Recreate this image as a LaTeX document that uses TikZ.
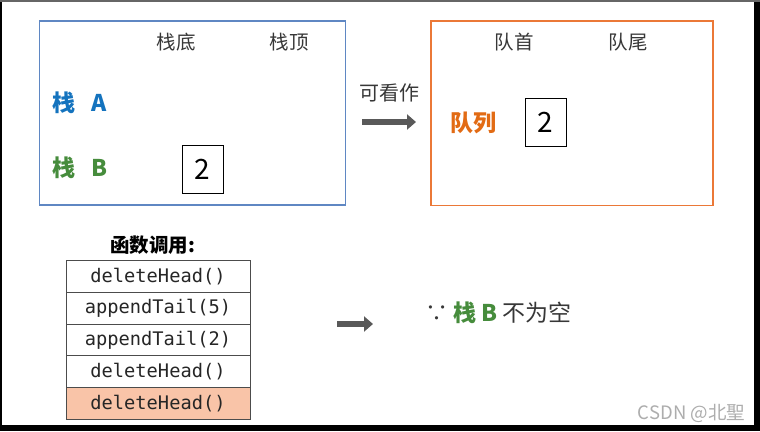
\documentclass[tikz,border=0pt]{standalone}
\usepackage{fontspec}
\setmainfont{Noto Sans CJK SC}
\setmonofont{DejaVu Sans Mono}
\usetikzlibrary{
  arrows.meta,
  positioning
}
\definecolor{stka}{RGB}{20,115,190}
\definecolor{stkb}{RGB}{70,140,60}
\definecolor{que}{RGB}{226,107,20}
\definecolor{txt}{RGB}{55,55,55}
\definecolor{bluebox}{RGB}{95,135,195}
\definecolor{orgbox}{RGB}{235,120,55}
\definecolor{hl}{RGB}{249,196,168}

\begin{document}
\begin{tikzpicture}[
  x=1pt, y=-1pt,
  every node/.style={inner sep=0pt, outer sep=0pt},
  headlbl/.style={font=\fontsize{19.5}{22}\selectfont, text=txt},
  stklbl/.style={font=\fontsize{23}{26}\selectfont\bfseries},
  valbox/.style={draw=black, line width=0.9pt, minimum width=41pt, minimum height=48pt,
               font=\fontsize{28}{30}\selectfont},
  callbox/.style={draw=black!70, line width=0.9pt, minimum width=184pt, minimum height=31.7pt,
               font=\ttfamily\fontsize{18.7}{22}\selectfont, text=black!85},
  bigarrow/.style={line width=6pt, black!65, -{Triangle[width=15pt, length=9pt]}}
]
\useasboundingbox (0,0) rectangle (760,431);

% frame
\fill[black] (0,0) rectangle (760,431);
\fill[white] (1.5,1.5) rectangle (754,425);
\fill[black!60] (0,0) rectangle (760,1.5);

% two stacks
\draw[bluebox, line width=1.3pt] (39.5,21) rectangle (345.5,205);
\node[headlbl] (bottom) at (176,42) {栈底};
\node[headlbl] (top) at (289,42) {栈顶};
\node[stklbl, text=stka] (stackA) at (80,103) {栈\hspace{0.7em}A};
\node[stklbl, text=stkb] (stackB) at (80,168) {栈\hspace{0.7em}B};
\node[valbox] (itemB) at (202.5,169) {2};

% "可看作"
\node[font=\fontsize{20}{22}\selectfont, text=txt] (lookas) at (389,93) {可看作};
\coordinate (la) at (362,122);
\coordinate (lb) at (416,122);
\draw[bigarrow] (la) -- (lb);

% queue
\draw[orgbox, line width=1.3pt] (431,21) rectangle (713,205.5);
\node[headlbl] (front) at (514,42) {队首};
\node[headlbl] (rear) at (628,42) {队尾};
\node[stklbl, text=que] (queue) at (473,123) {队列};
\node[valbox] (itemQ) at (545.5,122) {2};

% function calls
\node[font=\fontsize{19.5}{22}\selectfont\bfseries] (calls) at (152.5,245) {函数调用:};
\node[callbox] (call1) at (158,276.5) {deleteHead()};
\node[callbox] (call2) at (158,308.2) {appendTail(5)};
\node[callbox] (call3) at (158,339.8) {appendTail(2)};
\node[callbox] (call4) at (158,371.5) {deleteHead()};
\node[callbox, fill=hl] (call5) at (158,403.2) {deleteHead()};

% result
\coordinate (ra) at (337,324);
\coordinate (rb) at (373,324);
\draw[bigarrow] (ra) -- (rb);
\node[font=\fontsize{23}{26}\selectfont, text=txt, anchor=west] (because) at (425,313)
  {∵ \textcolor{stkb}{\bfseries 栈 B} 不为空};

% watermark
\node[font=\fontsize{18.5}{20}\selectfont, text=black!32, anchor=east] (mark) at (745,413)
  {CSDN @北聖};

\end{tikzpicture}
\end{document}
